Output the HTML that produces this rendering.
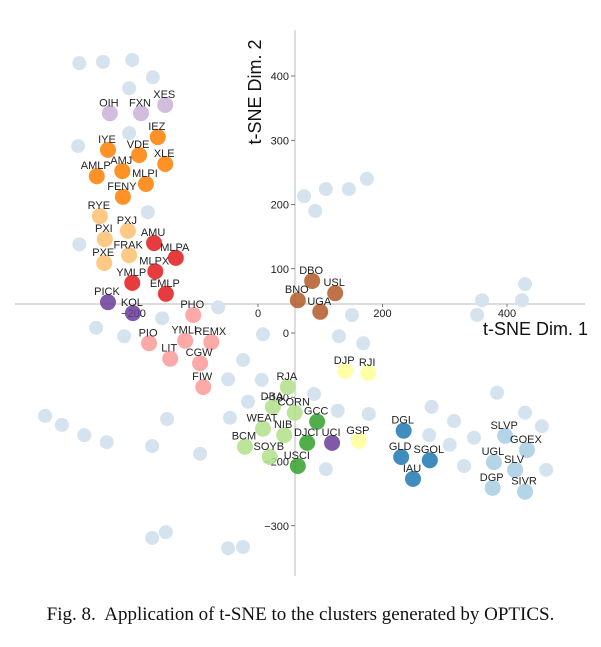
<!DOCTYPE html>
<html><head><meta charset="utf-8"><style>
html,body{margin:0;padding:0;background:#fff;}
#wrap{position:relative;width:601px;height:647px;overflow:hidden;}
svg{position:absolute;left:0;top:0;}
#cap{position:absolute;left:0;width:601px;top:604px;text-align:center;font-family:"Liberation Serif",serif;font-size:19px;color:#111;}
</style></head><body>
<div id="wrap">
<svg id="chart" width="601" height="600" font-family="Liberation Sans, DejaVu Sans, sans-serif"></svg>
<div id="cap">Fig. 8.&nbsp; Application of t-SNE to the clusters generated by OPTICS.</div>
</div>
<script>
// ---- data ----
const xTicks = [-200, 0, 200, 400];
const yTicks = [400, 300, 200, 100, 0, -100, -200, -300];
const labels = ["OIH","FXN","XES","IEZ","IYE","VDE","XLE","AMLP","AMJ","MLPI","FENY","RYE","PXJ","PXI","FRAK","PXE","AMU","MLPA","MLPX","YMLP","EMLP","PICK","KOL","PHO","PIO","YMLI","REMX","LIT","CGW","FIW","DBO","USL","BNO","UGA","DJP","RJI","GSP","RJA","DBA","CORN","WEAT","NIB","BCM","SOYB","GCC","DJCI","USCI","UCI","DGL","GLD","SGOL","IAU","SLVP","GOEX","UGL","SLV","DGP","SIVR"];
const xs = [-238,-188,-149,-161,-241,-191,-149,-259,-218,-180,-217,-254,-209,-246,-207,-247,-167,-132,-165,-202,-148,-241,-201,-104,-175,-117,-75,-141,-93,-88,87,124,64,100,140,177,162,48,24,59,8,42,-21,19,95,79,64,119,234,230,276,249,397,432,379,413,377,429];
const ys = [342,342,355,305,285,277,263,244,252,232,212,182,159,146,121,109,140,117,96,78,61,48,31,28,-16,-12,-14,-40,-47,-84,81,62,51,33,-59,-62,-168,-84,-115,-124,-149,-159,-177,-193,-138,-171,-207,-171,-152,-193,-198,-227,-160,-182,-201,-213,-241,-247];
const clusters = [8,8,8,7,7,7,7,7,7,7,7,6,6,6,6,6,5,5,5,5,5,9,9,4,4,4,4,4,4,4,11,11,11,11,10,10,10,2,2,2,2,2,2,2,3,3,3,9,1,1,1,1,0,0,0,0,0,0];
const noiseX = [-287,-249,-202,-169,-207,-207,-289,-177,-287,-64,-154,-260,-215,8,-24,-48,6,-16,-45,-146,-342,-315,-279,-243,-170,-93,-170,-148,-48,-24,74,92,109,146,175,151,130,169,90,128,178,279,315,347,275,308,331,109,384,429,456,463,352,360,424,429];
const noiseY = [420,422,425,398,381,311,291,188,138,40,23,8,-5,-2,-42,-72,-73,-107,-132,-134,-129,-143,-159,-170,-176,-188,-319,-310,-335,-333,213,190,224,224,240,28,-5,-16,-95,-121,-126,-115,-137,-163,-159,-174,-207,-212,-93,-124,-145,-213,28,51,51,76];
const palette = ["#a6cee3","#1f78b4","#b2df8a","#33a02c","#fb9a99","#e31a1c","#fdbf6f","#ff7f00","#cab2d6","#6a3d9a","#ffff99","#b15928"];

// ---- axes ----
const X = v => 258 + 0.6225 * v;
const Y = v => 333 - 0.6425 * v;
const NS = "http://www.w3.org/2000/svg";
const svg = document.getElementById("chart");
function mk(tag, attrs, parent){const e=document.createElementNS(NS,tag);for(const k in attrs)e.setAttribute(k,attrs[k]);(parent||svg).appendChild(e);return e;}

const axX = mk("line",{x1:15,y1:304,x2:585,y2:304,stroke:"#c8c8c8","stroke-width":1.2});


const axY = mk("line",{x1:295,y1:30,x2:295,y2:576,stroke:"#c8c8c8","stroke-width":1.2});



xTicks.forEach(t=>{
  const tk = mk("line",{x1:X(t),y1:304,x2:X(t),y2:307,stroke:"#555","stroke-width":0.8});
  
  
  const tl = mk("text",{x:X(t),y:317,"text-anchor":"middle","font-size":11,fill:"#222"});
  tl.textContent = t<0 ? "\u2212"+Math.abs(t) : String(t);
  
  
});
yTicks.forEach(t=>{
  const tk = mk("line",{x1:291,y1:Y(t),x2:295,y2:Y(t),stroke:"#555","stroke-width":0.8});
  
  
  const tl = mk("text",{x:289,y:Y(t)+4,"text-anchor":"end","font-size":11,fill:"#222"});
  tl.textContent = t<0 ? "\u2212"+Math.abs(t) : String(t);
  
  
});

// noise points
noiseX.forEach((v,i)=>{
  const c = mk("circle",{cx:X(v),cy:Y(noiseY[i]),r:7,fill:"#d5e3ef"});
  
  
});
// cluster points
xs.forEach((v,i)=>{
  const c = mk("circle",{cx:X(v),cy:Y(ys[i]),r:8,fill:palette[clusters[i]],"fill-opacity":0.85});
  
  
});
xs.forEach((v,i)=>{
  const t = mk("text",{x:X(v)-1,y:Y(ys[i])-7,"text-anchor":"middle","font-size":11,fill:"#222"});
  t.textContent = labels[i];
  
  
});

const t1 = mk("text",{x:483,y:335,"font-size":18,fill:"#111"});
t1.textContent = "t-SNE Dim. 1";


const t2 = mk("text",{x:0,y:0,"font-size":18,fill:"#111","text-anchor":"middle",transform:"translate(261,92) rotate(-90)"});
t2.textContent = "t-SNE Dim. 2";


</script>
</body></html>
